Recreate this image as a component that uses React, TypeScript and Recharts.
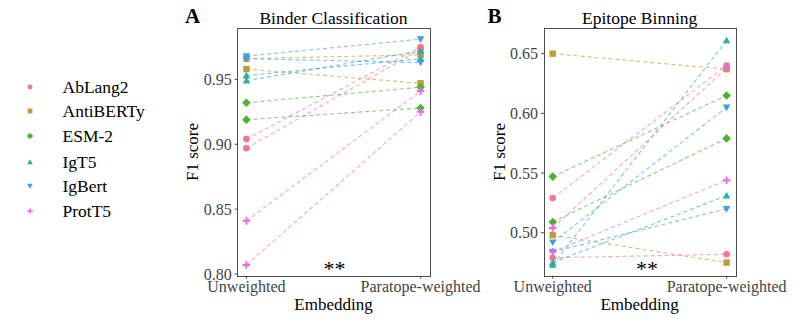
import { LineChart, Line, XAxis, YAxis } from 'recharts'

const embeddings = ['Unweighted', 'Paratope-weighted']
const models = ['AbLang2', 'AntiBERTy', 'ESM-2', 'IgT5', 'IgBert', 'ProtT5']
const modelColors = ['#F5768F', '#C39A35', '#4BB230', '#2DAEA5', '#3A9FF0', '#EE67EC']

// two runs per model, same order in every value array below
const runModels = [
  'AbLang2', 'AbLang2', 'AntiBERTy', 'AntiBERTy', 'ESM-2', 'ESM-2',
  'IgT5', 'IgT5', 'IgBert', 'IgBert', 'ProtT5', 'ProtT5',
]

const binderUnweighted = [0.904, 0.897, 0.958, 0.966, 0.932, 0.919, 0.953, 0.949, 0.968, 0.966, 0.841, 0.807]
const binderWeighted = [0.975, 0.973, 0.947, 0.969, 0.944, 0.928, 0.966, 0.972, 0.981, 0.963, 0.941, 0.925]
const binderTicks = [0.8, 0.85, 0.9, 0.95]

const epitopeUnweighted = [0.529, 0.479, 0.650, 0.498, 0.547, 0.509, 0.473, 0.475, 0.492, 0.484, 0.504, 0.484]
const epitopeWeighted = [0.640, 0.482, 0.637, 0.475, 0.615, 0.579, 0.661, 0.531, 0.605, 0.520, 0.638, 0.544]
const epitopeTicks = [0.5, 0.55, 0.6, 0.65]

const FONT = '"Liberation Serif", "DejaVu Serif", serif'
const AXIS_GREY = '#4d4d4d'
const PLOT_TOP = 28.7
const PLOT_BOTTOM = 275.7

const colorOf = (model: string) => modelColors[models.indexOf(model)]

function Marker({ cx, cy, model, s = 1 }: { cx: number; cy: number; model: string; s?: number }) {
  const c = colorOf(model)
  if (cx == null || cy == null) return null
  switch (model) {
    case 'AbLang2':
      return <circle cx={cx} cy={cy} r={3.3 * s} fill={c} />
    case 'AntiBERTy':
      return <rect x={cx - 3.2 * s} y={cy - 3.2 * s} width={6.4 * s} height={6.4 * s} fill={c} />
    case 'ESM-2': {
      const d = 4.3 * s
      return <polygon points={`${cx},${cy - d} ${cx + d},${cy} ${cx},${cy + d} ${cx - d},${cy}`} fill={c} />
    }
    case 'IgT5': {
      const d = 3.8 * s
      return <polygon points={`${cx},${cy - d} ${cx + d},${cy + d * 0.75} ${cx - d},${cy + d * 0.75}`} fill={c} />
    }
    case 'IgBert': {
      const d = 3.8 * s
      return <polygon points={`${cx},${cy + d} ${cx + d},${cy - d * 0.75} ${cx - d},${cy - d * 0.75}`} fill={c} />
    }
    default: {
      const d = 3.8 * s
      return (
        <g stroke={c} strokeWidth={2 * s}>
          <line x1={cx - d} y1={cy} x2={cx + d} y2={cy} />
          <line x1={cx} y1={cy - d} x2={cx} y2={cy + d} />
        </g>
      )
    }
  }
}

interface PanelProps {
  left: number
  width: number
  plotLeft: number
  plotRight: number
  domain: [number, number]
  ticks: number[]
  unweighted: number[]
  weighted: number[]
  letter: string
  letterX: number
  title: string
  starX: number
}

function Panel({ left, width, plotLeft, plotRight, domain, ticks, unweighted, weighted, letter, letterX, title, starX }: PanelProps) {
  const data = embeddings.map((e, i) => {
    const row: any = { x: i, embedding: e }
    runModels.forEach((_, r) => {
      row['run' + r] = i === 0 ? unweighted[r] : weighted[r]
    })
    return row
  })
  const center = (plotLeft + plotRight) / 2

  return (
    <>
      <div style={{ position: 'absolute', left, top: 0 }}>
        <LineChart
          width={width}
          height={320}
          data={data}
          margin={{ top: PLOT_TOP, right: left + width - plotRight, bottom: 14.3, left: 0 }}
        >
          <XAxis
            dataKey="x"
            type="number"
            domain={[-0.05, 1.05]}
            ticks={[0, 1]}
            tickFormatter={(v: number) => embeddings[v]}
            height={30}
            axisLine={false}
            tickSize={3}
            tickMargin={2}
            tickLine={{ stroke: AXIS_GREY }}
            tick={{ fill: '#444', fontSize: 16, fontFamily: FONT }}
            interval={0}
          />
          <YAxis
            type="number"
            domain={domain}
            ticks={ticks}
            allowDataOverflow
            width={plotLeft - left}
            axisLine={false}
            tickSize={3}
            tickMargin={3}
            tickLine={{ stroke: AXIS_GREY }}
            tick={{ fill: '#444', fontSize: 16, fontFamily: FONT }}
            tickFormatter={(v: number) => v.toFixed(2)}
          />
          {runModels.map((m, r) => (
            <Line
              key={'run' + r}
              dataKey={'run' + r}
              stroke={colorOf(m)}
              strokeOpacity={0.65}
              strokeWidth={1.1}
              strokeDasharray="4 3"
              isAnimationActive={false}
              activeDot={false}
              dot={(p: any) => <Marker key={`d${r}-${p.index}`} cx={p.cx} cy={p.cy} model={m} />}
            />
          ))}
        </LineChart>
      </div>
      <div
        style={{
          position: 'absolute',
          left: plotLeft - 0.5,
          top: PLOT_TOP - 0.5,
          width: plotRight - plotLeft,
          height: PLOT_BOTTOM - PLOT_TOP,
          border: `1px solid ${AXIS_GREY}`,
          pointerEvents: 'none',
        }}
      />
      <div style={{ position: 'absolute', left: letterX, top: 16, transform: 'translate(-50%,-50%)', fontSize: 21, fontWeight: 'bold' }}>
        {letter}
      </div>
      <div style={{ position: 'absolute', left: center, top: 18, transform: 'translate(-50%,-50%)', fontSize: 17.5, whiteSpace: 'nowrap' }}>
        {title}
      </div>
      <div style={{ position: 'absolute', left: starX, top: 269, transform: 'translate(-50%,-50%)', fontSize: 22, whiteSpace: 'nowrap' }}>
        **
      </div>
      <div style={{ position: 'absolute', left: center, top: 305, transform: 'translate(-50%,-50%)', fontSize: 17, whiteSpace: 'nowrap' }}>
        Embedding
      </div>
      <div
        style={{
          position: 'absolute',
          left: plotLeft - 44.5,
          top: (PLOT_TOP + PLOT_BOTTOM) / 2,
          transform: 'translate(-50%,-50%) rotate(-90deg)',
          fontSize: 17,
          whiteSpace: 'nowrap',
        }}
      >
        F1 score
      </div>
    </>
  )
}

export default function App() {
  const legendY = [86.5, 111.3, 136.3, 161.5, 185.8, 211]
  return (
    <div
      style={{
        position: 'fixed',
        left: 0,
        top: 0,
        width: 793,
        height: 320,
        background: '#fff',
        fontFamily: FONT,
        color: '#000',
        overflow: 'hidden',
      }}
    >
      {models.map((m, i) => (
        <div key={m} style={{ position: 'absolute', left: 0, top: legendY[i] - 10, height: 20, width: 160 }}>
          <svg width={40} height={20} style={{ position: 'absolute', left: 10, top: 0 }}>
            <Marker cx={20} cy={10} model={m} s={0.75} />
          </svg>
          <div style={{ position: 'absolute', left: 62.5, top: 10, transform: 'translateY(-50%)', fontSize: 17.5, whiteSpace: 'nowrap' }}>
            {m}
          </div>
        </div>
      ))}
      <Panel
        left={0}
        width={520}
        plotLeft={237.7}
        plotRight={429.3}
        domain={[0.7987, 0.9891]}
        ticks={binderTicks}
        unweighted={binderUnweighted}
        weighted={binderWeighted}
        letter="A"
        letterX={192.5}
        title="Binder Classification"
        starX={334.5}
      />
      <Panel
        left={440}
        width={353}
        plotLeft={544}
        plotRight={735.3}
        domain={[0.464, 0.6709]}
        ticks={epitopeTicks}
        unweighted={epitopeUnweighted}
        weighted={epitopeWeighted}
        letter="B"
        letterX={494.5}
        title="Epitope Binning"
        starX={647}
      />
    </div>
  )
}
